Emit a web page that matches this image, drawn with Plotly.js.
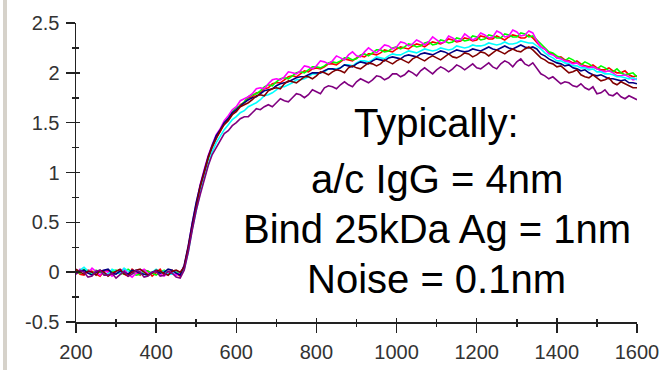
<!DOCTYPE html>
<html>
<head>
<meta charset="utf-8">
<script src="https://cdn.plot.ly/plotly-3.0.1.min.js"></script>
<style>
  html, body { margin: 0; padding: 0; background: #ffffff; }
  #wrap { position: relative; width: 660px; height: 370px; }
  #strip { position: absolute; left: 3px; top: 0; width: 4px; height: 370px; background: #d6d2ca; }
  #chart { position: absolute; left: 0; top: 0; width: 660px; height: 370px; }
</style>
</head>
<body>
<div id="wrap"><div id="chart"></div><div id="strip"></div></div>
<script>
// Time (s) sample points
const timeX = [
  200,210,220,230,240,250,260,270,280,290,
  300,310,320,330,340,350,360,370,380,390,
  400,410,420,430,440,450,460,470,480,490,
  500,510,520,530,540,550,560,570,580,590,
  600,610,620,630,640,650,660,670,680,690,
  700,710,720,730,740,750,760,770,780,790,
  800,810,820,830,840,850,860,870,880,890,
  900,910,920,930,940,950,960,970,980,990,
  1000,1010,1020,1030,1040,1050,1060,1070,1080,1090,
  1100,1110,1120,1130,1140,1150,1160,1170,1180,1190,
  1200,1210,1220,1230,1240,1250,1260,1270,1280,1290,
  1300,1310,1320,1330,1340,1350,1360,1370,1380,1390,
  1400,1410,1420,1430,1440,1450,1460,1470,1480,1490,
  1500,1510,1520,1530,1540,1550,1560,1570,1580,1590,
  1600];

// Binding shift (nm) per sensor
const seriesRed = [
  0.02,-0.02,-0.03,0.02,0.01,-0.02,-0.04,0.01,0.02,-0.03,
  0.00,0.02,-0.02,-0.04,0.03,0.00,-0.03,0.02,0.01,-0.04,
  0.00,0.03,-0.03,0.00,0.02,-0.01,-0.04,0.05,0.23,0.47,
  0.67,0.85,0.99,1.14,1.25,1.35,1.41,1.49,1.53,1.59,
  1.62,1.68,1.70,1.75,1.76,1.80,1.80,1.84,1.85,1.89,
  1.90,1.90,1.93,1.96,1.97,1.96,1.99,2.02,2.01,2.04,
  2.05,2.04,2.06,2.09,2.09,2.08,2.11,2.14,2.13,2.12,
  2.15,2.17,2.16,2.19,2.19,2.18,2.20,2.23,2.22,2.21,
  2.24,2.26,2.25,2.24,2.27,2.29,2.28,2.26,2.29,2.31,
  2.30,2.29,2.31,2.34,2.33,2.31,2.32,2.35,2.34,2.32,
  2.33,2.37,2.36,2.34,2.34,2.37,2.35,2.33,2.36,2.38,
  2.37,2.35,2.35,2.38,2.35,2.31,2.26,2.24,2.20,2.19,
  2.15,2.16,2.13,2.12,2.10,2.12,2.09,2.07,2.06,2.08,
  2.05,2.03,2.03,2.05,2.02,2.00,2.00,2.02,1.98,1.96,
  1.97];
const seriesGreen = [
  0.01,-0.01,0.03,0.00,-0.02,0.02,0.00,-0.02,-0.03,0.01,
  0.02,-0.02,-0.01,0.03,0.00,-0.03,-0.02,0.02,0.01,-0.01,
  -0.03,0.00,0.02,-0.02,-0.01,0.01,-0.02,0.04,0.22,0.45,
  0.66,0.86,1.01,1.15,1.27,1.36,1.43,1.50,1.55,1.61,
  1.65,1.67,1.71,1.76,1.78,1.79,1.82,1.86,1.88,1.87,
  1.91,1.94,1.95,1.94,1.97,2.00,2.01,2.00,2.03,2.06,
  2.06,2.05,2.07,2.10,2.11,2.10,2.12,2.15,2.15,2.13,
  2.14,2.18,2.19,2.17,2.20,2.23,2.23,2.21,2.22,2.25,
  2.26,2.24,2.26,2.29,2.28,2.26,2.27,2.30,2.31,2.28,
  2.29,2.33,2.32,2.30,2.31,2.35,2.34,2.32,2.33,2.37,
  2.36,2.33,2.34,2.38,2.37,2.35,2.35,2.39,2.38,2.36,
  2.36,2.40,2.39,2.36,2.37,2.33,2.28,2.25,2.21,2.20,
  2.17,2.15,2.12,2.15,2.13,2.10,2.08,2.11,2.09,2.06,
  2.04,2.07,2.05,2.02,2.01,2.04,2.00,1.98,1.99,2.00,
  1.96];
const seriesMagenta = [
  -0.02,0.03,0.01,-0.01,0.04,0.00,-0.03,0.02,0.00,-0.04,
  -0.01,0.02,0.03,-0.02,-0.05,-0.01,0.01,0.03,-0.02,0.00,
  0.02,-0.02,-0.04,0.00,0.01,-0.03,-0.01,0.06,0.25,0.49,
  0.70,0.88,1.03,1.17,1.28,1.38,1.44,1.52,1.57,1.63,
  1.66,1.72,1.74,1.76,1.79,1.84,1.85,1.84,1.89,1.93,
  1.94,1.93,1.96,2.01,2.00,1.99,2.02,2.07,2.06,2.04,
  2.07,2.12,2.11,2.09,2.12,2.17,2.15,2.13,2.18,2.21,
  2.17,2.16,2.21,2.25,2.22,2.20,2.24,2.28,2.27,2.24,
  2.26,2.31,2.30,2.27,2.29,2.33,2.31,2.28,2.31,2.36,
  2.33,2.30,2.31,2.37,2.35,2.32,2.33,2.39,2.36,2.33,
  2.35,2.40,2.38,2.35,2.36,2.42,2.40,2.36,2.37,2.43,
  2.41,2.37,2.38,2.42,2.40,2.32,2.26,2.24,2.19,2.18,
  2.15,2.14,2.12,2.11,2.09,2.10,2.07,2.06,2.05,2.06,
  2.04,2.02,2.01,2.02,2.00,1.97,1.97,1.98,1.96,1.93,
  1.94];
const seriesCyan = [
  0.00,0.02,0.05,0.01,-0.01,0.00,0.02,-0.01,-0.02,0.03,
  0.01,-0.02,0.04,0.01,-0.01,0.02,0.00,-0.02,-0.03,0.00,
  0.03,0.00,0.01,-0.02,-0.02,0.01,0.00,0.03,0.20,0.43,
  0.62,0.80,0.95,1.09,1.21,1.30,1.37,1.43,1.48,1.53,
  1.56,1.60,1.62,1.66,1.68,1.70,1.73,1.77,1.78,1.80,
  1.83,1.86,1.86,1.88,1.90,1.93,1.93,1.94,1.96,1.99,
  1.99,2.00,2.01,2.04,2.04,2.04,2.05,2.08,2.08,2.07,
  2.10,2.12,2.12,2.11,2.13,2.16,2.15,2.14,2.17,2.19,
  2.18,2.18,2.20,2.22,2.21,2.20,2.22,2.24,2.23,2.22,
  2.23,2.25,2.24,2.23,2.24,2.27,2.26,2.25,2.26,2.28,
  2.27,2.27,2.28,2.30,2.29,2.28,2.29,2.31,2.29,2.29,
  2.30,2.32,2.31,2.30,2.30,2.27,2.24,2.20,2.17,2.15,
  2.12,2.12,2.10,2.09,2.07,2.07,2.05,2.05,2.03,2.04,
  2.01,2.01,1.99,1.99,1.98,1.96,1.96,1.95,1.94,1.95,
  1.93];
const seriesNavy = [
  -0.01,0.01,0.02,-0.01,-0.03,0.00,0.01,0.02,0.03,-0.01,
  -0.02,0.01,0.00,-0.02,0.02,0.01,-0.01,-0.02,-0.03,0.00,
  0.01,-0.01,0.00,0.03,0.02,-0.01,-0.03,0.07,0.26,0.49,
  0.70,0.87,1.02,1.16,1.27,1.37,1.43,1.50,1.54,1.60,
  1.63,1.67,1.70,1.73,1.75,1.76,1.79,1.82,1.83,1.84,
  1.87,1.89,1.90,1.91,1.93,1.95,1.96,1.96,1.98,2.00,
  2.00,2.00,2.02,2.04,2.04,2.03,2.05,2.08,2.07,2.06,
  2.09,2.11,2.10,2.09,2.12,2.14,2.13,2.12,2.15,2.16,
  2.15,2.14,2.17,2.18,2.17,2.16,2.19,2.20,2.19,2.18,
  2.20,2.22,2.21,2.19,2.21,2.23,2.22,2.21,2.22,2.24,
  2.23,2.22,2.24,2.26,2.24,2.23,2.25,2.27,2.25,2.24,
  2.26,2.28,2.26,2.25,2.26,2.24,2.19,2.17,2.14,2.12,
  2.10,2.09,2.07,2.08,2.05,2.04,2.02,2.03,2.00,1.98,
  1.97,1.98,1.96,1.94,1.94,1.93,1.92,1.93,1.90,1.90,
  1.89];
const seriesDarkRed = [
  0.03,0.00,-0.02,0.01,0.00,-0.03,0.02,0.00,-0.04,-0.01,
  0.01,0.03,-0.02,-0.03,0.00,0.02,0.03,0.00,-0.03,-0.01,
  0.02,0.01,-0.01,-0.03,0.01,0.02,0.00,0.05,0.24,0.46,
  0.68,0.86,1.00,1.15,1.26,1.34,1.42,1.48,1.52,1.58,
  1.61,1.66,1.68,1.70,1.73,1.77,1.78,1.77,1.82,1.84,
  1.85,1.84,1.89,1.92,1.91,1.90,1.93,1.96,1.96,1.94,
  1.97,2.01,2.00,1.98,2.01,2.03,2.02,2.00,2.05,2.07,
  2.05,2.04,2.07,2.10,2.09,2.07,2.09,2.13,2.11,2.09,
  2.12,2.14,2.12,2.10,2.14,2.16,2.14,2.12,2.15,2.17,
  2.15,2.13,2.16,2.19,2.16,2.15,2.17,2.20,2.19,2.16,
  2.18,2.21,2.20,2.17,2.20,2.23,2.21,2.19,2.22,2.24,
  2.22,2.21,2.24,2.26,2.23,2.19,2.15,2.13,2.10,2.09,
  2.06,2.07,2.03,2.00,2.01,2.03,1.98,1.96,1.95,1.98,
  1.95,1.92,1.93,1.95,1.90,1.88,1.91,1.89,1.87,1.85,
  1.85];
const seriesPurple = [
  -0.02,0.02,0.00,-0.05,-0.04,0.01,0.02,-0.03,-0.03,-0.01,
  -0.06,-0.02,0.01,-0.04,-0.02,0.02,0.00,-0.05,-0.04,0.00,
  0.01,-0.04,-0.03,0.01,-0.01,-0.05,-0.06,0.02,0.20,0.42,
  0.62,0.78,0.94,1.07,1.18,1.25,1.32,1.39,1.42,1.47,
  1.50,1.54,1.56,1.56,1.60,1.64,1.63,1.66,1.68,1.66,
  1.70,1.74,1.72,1.71,1.75,1.79,1.78,1.75,1.78,1.83,
  1.81,1.79,1.85,1.87,1.86,1.84,1.88,1.91,1.88,1.86,
  1.91,1.94,1.92,1.90,1.93,1.97,1.96,1.93,1.95,1.99,
  1.99,1.96,1.98,2.02,2.00,1.97,2.02,2.05,2.02,1.99,
  2.03,2.06,2.04,2.01,2.04,2.08,2.06,2.03,2.06,2.09,
  2.05,2.04,2.07,2.10,2.06,2.04,2.09,2.12,2.10,2.06,
  2.11,2.14,2.09,2.07,2.10,2.05,1.99,1.97,1.94,1.96,
  1.92,1.89,1.91,1.90,1.87,1.86,1.89,1.85,1.83,1.86,
  1.79,1.80,1.83,1.78,1.77,1.80,1.76,1.74,1.77,1.75,
  1.73];

const seriesList = [
  {y: seriesRed, color: '#ff0000'},
  {y: seriesGreen, color: '#00ff00'},
  {y: seriesMagenta, color: '#ff00ff'},
  {y: seriesCyan, color: '#00ffff'},
  {y: seriesNavy, color: '#000080'},
  {y: seriesDarkRed, color: '#800000'},
  {y: seriesPurple, color: '#800080'}
];

const xTickVals = [200,400,600,800,1000,1200,1400,1600];
const yTickVals = [-0.5,0,0.5,1,1.5,2,2.5];
const yTickText = ['-0.5','0','0.5','1','1.5','2','2.5'];

const noteLines = ['Typically:', 'a/c IgG = 4nm', 'Bind 25kDa Ag = 1nm', 'Noise = 0.1nm'];
const noteY = [1.50, 0.93, 0.43, -0.07];
const noteX = 1100;

const traces = seriesList.map(s => ({
  x: timeX, y: s.y, type: 'scatter', mode: 'lines',
  line: {color: s.color, width: 1.6}, hoverinfo: 'skip', showlegend: false
}));
// empty trace so the overlay axes (inside ticks) are drawn
traces.push({x: [], y: [], xaxis: 'x2', yaxis: 'y2', type: 'scatter', mode: 'lines', showlegend: false});

const tickFont = {family: 'Liberation Sans, Arial, sans-serif', size: 20, color: '#333333'};
const axCol = '#222222';

const layout = {
  width: 660, height: 370,
  margin: {l: 76, r: 23, t: 23, b: 48},
  paper_bgcolor: '#ffffff', plot_bgcolor: '#ffffff',
  showlegend: false,
  xaxis: {
    range: [200, 1600], tickvals: xTickVals, ticktext: xTickVals.map(String),
    showgrid: false, zeroline: false, showline: true, linecolor: axCol, linewidth: 1.5,
    ticks: 'outside', ticklen: 9, tickwidth: 1.5, tickcolor: axCol,
    minor: {ticks: 'outside', ticklen: 3, tickwidth: 1.5, tickcolor: axCol, dtick: 100, tick0: 200, showgrid: false},
    tickfont: tickFont, ticklabelstandoff: 2
  },
  yaxis: {
    range: [-0.5, 2.5], tickvals: yTickVals, ticktext: yTickText,
    showgrid: false, zeroline: false, showline: true, linecolor: axCol, linewidth: 1.5,
    ticks: 'outside', ticklen: 9, tickwidth: 1.5, tickcolor: axCol,
    minor: {ticks: 'outside', ticklen: 3, tickwidth: 1.5, tickcolor: axCol, dtick: 0.25, tick0: 0, showgrid: false},
    tickfont: tickFont, ticklabelstandoff: 2
  },
  xaxis2: {
    overlaying: 'x', range: [200, 1600], tickvals: xTickVals, showticklabels: false,
    showgrid: false, zeroline: false, showline: false,
    ticks: 'inside', ticklen: 4, tickwidth: 1.5, tickcolor: axCol,
    minor: {ticks: 'inside', ticklen: 3, tickwidth: 1.5, tickcolor: axCol, dtick: 100, tick0: 200, showgrid: false}
  },
  yaxis2: {
    overlaying: 'y', range: [-0.5, 2.5], tickvals: yTickVals, showticklabels: false,
    showgrid: false, zeroline: false, showline: false,
    ticks: 'inside', ticklen: 4, tickwidth: 1.5, tickcolor: axCol,
    minor: {ticks: 'inside', ticklen: 3, tickwidth: 1.5, tickcolor: axCol, dtick: 0.25, tick0: 0, showgrid: false}
  },
  annotations: noteLines.map((t, i) => ({
    text: t, x: noteX, y: noteY[i], xref: 'x', yref: 'y',
    xanchor: 'center', yanchor: 'middle', showarrow: false,
    font: {family: 'Liberation Sans, Arial, sans-serif', size: 40, color: '#000000'}
  }))
};

Plotly.newPlot('chart', traces, layout, {displayModeBar: false, staticPlot: true});
</script>
</body>
</html>
